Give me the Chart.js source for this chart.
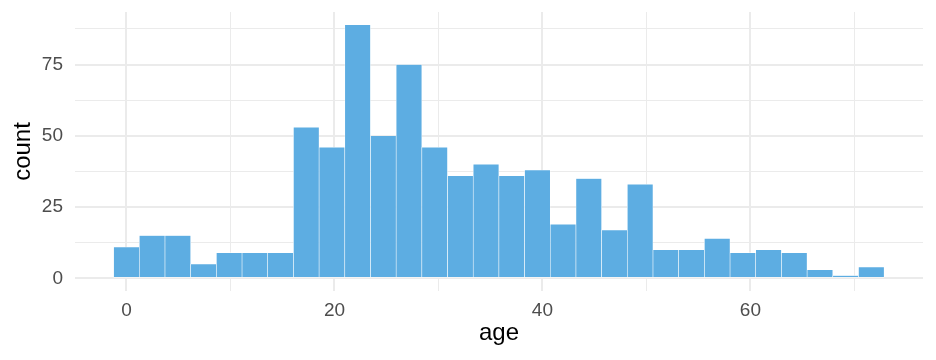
<!DOCTYPE html>
<html lang="en">
<head>
  <meta charset="UTF-8">
  <title>age histogram</title>
  <script src="https://cdn.jsdelivr.net/npm/chart.js"></script>
  <style>
    html, body { margin: 0; padding: 0; background: #fff; }
    #wrap { width: 936px; height: 360px; }
  </style>
</head>
<body>
  <div id="wrap"><canvas id="myChart" width="936" height="360"></canvas></div>

  <script>
    // bin centres (age) and counts per bin
    const binCenters = [0, 2.47, 4.94, 7.41, 9.88, 12.35, 14.82, 17.29, 19.76, 22.23,
                        24.7, 27.17, 29.64, 32.11, 34.58, 37.05, 39.52, 41.99, 44.46, 46.93,
                        49.4, 51.87, 54.34, 56.81, 59.28, 61.75, 64.22, 66.69, 69.16, 71.63];
    const counts = [11, 15, 15, 5, 9, 9, 9, 53, 46, 89,
                    50, 75, 46, 36, 40, 36, 38, 19, 35, 17,
                    33, 10, 10, 14, 9, 10, 9, 3, 1, 4];

    const xTicks = [0, 10, 20, 30, 40, 50, 60, 70];
    const xLabels = [0, 20, 40, 60];
    const yTicks = [0, 12.5, 25, 37.5, 50, 62.5, 75, 87.5];
    const yLabels = [0, 25, 50, 75];

    const gridColor = 'rgb(235, 235, 235)';
    const tickFont = { family: 'Liberation Sans, Arial, sans-serif', size: 19 };
    const titleFont = { family: 'Liberation Sans, Arial, sans-serif', size: 24 };

    // major lines thicker than minor ones
    function lineW(labels) {
      return c => (c.tick && labels.includes(c.tick.value)) ? 2 : 1;
    }

    const ctx = document.getElementById('myChart').getContext('2d');
    new Chart(ctx, {
      type: 'bar',
      data: {
        datasets: [{
          data: binCenters.map((x, i) => ({ x: x, y: counts[i] })),
          backgroundColor: '#5DADE2',
          borderColor: 'rgba(255, 255, 255, 0.8)',
          borderWidth: 0.6,
          borderSkipped: false,
          barPercentage: 1,
          categoryPercentage: 1
        }]
      },
      options: {
        responsive: false,
        animation: false,
        layout: { padding: { top: 12, right: 13, left: 0, bottom: 0 } },
        plugins: { legend: { display: false }, tooltip: { enabled: false } },
        scales: {
          x: {
            type: 'linear',
            offset: false,
            min: -4.95,
            max: 76.6,
            afterBuildTicks: s => { s.ticks = xTicks.map(v => ({ value: v })); },
            afterFit: s => { s.height = 69; s.paddingLeft = 0; s.paddingRight = 0; },
            ticks: {
              autoSkip: false,
              maxRotation: 0,
              padding: 8,
              color: '#4D4D4D',
              font: tickFont,
              callback: v => xLabels.includes(v) ? String(v) : ''
            },
            grid: {
              offset: false,
              drawTicks: false,
              color: gridColor,
              lineWidth: lineW(xLabels)
            },
            border: { display: false },
            title: {
              display: true,
              text: 'age',
              color: '#000',
              font: titleFont,
              padding: { top: 0, bottom: 12 }
            }
          },
          y: {
            min: -4.45,
            max: 93.45,
            afterBuildTicks: s => { s.ticks = yTicks.map(v => ({ value: v })); },
            afterFit: s => { s.width = 75; s.paddingTop = 0; s.paddingBottom = 0; },
            ticks: {
              autoSkip: false,
              padding: 12,
              color: '#4D4D4D',
              font: tickFont,
              callback: v => yLabels.includes(v) ? String(v) : ''
            },
            grid: {
              drawTicks: false,
              color: gridColor,
              lineWidth: lineW(yLabels)
            },
            border: { display: false },
            title: {
              display: true,
              text: 'count',
              color: '#000',
              font: titleFont,
              padding: { top: 9, bottom: 0 }
            }
          }
        }
      }
    });
  </script>
</body>
</html>
